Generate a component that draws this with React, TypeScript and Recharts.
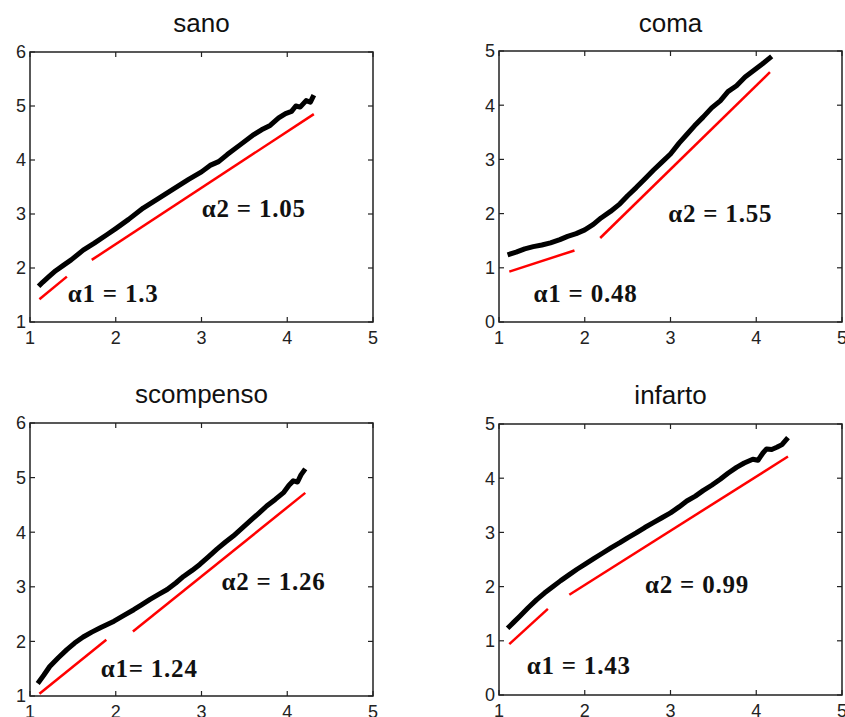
import { LineChart, Line, XAxis, YAxis, ReferenceArea, ReferenceDot } from 'recharts';

const X_TICKS = [1, 2, 3, 4, 5];
const Y_TICKS_16 = [1, 2, 3, 4, 5, 6];
const Y_TICKS_05 = [0, 1, 2, 3, 4, 5];

// sano
const sanoBlack = [
    { x: 1.10, y: 1.66 }, { x: 1.15, y: 1.74 }, { x: 1.22, y: 1.84 }, { x: 1.30, y: 1.95 },
    { x: 1.38, y: 2.04 }, { x: 1.48, y: 2.15 }, { x: 1.62, y: 2.33 }, { x: 1.75, y: 2.46 },
    { x: 1.90, y: 2.62 }, { x: 2.00, y: 2.73 }, { x: 2.15, y: 2.90 }, { x: 2.32, y: 3.11 },
    { x: 2.50, y: 3.29 }, { x: 2.67, y: 3.46 }, { x: 2.85, y: 3.64 }, { x: 3.00, y: 3.78 },
    { x: 3.10, y: 3.90 }, { x: 3.20, y: 3.97 }, { x: 3.30, y: 4.10 }, { x: 3.45, y: 4.28 },
    { x: 3.61, y: 4.47 }, { x: 3.70, y: 4.56 }, { x: 3.80, y: 4.64 }, { x: 3.90, y: 4.78 },
    { x: 3.98, y: 4.86 }, { x: 4.05, y: 4.90 }, { x: 4.10, y: 5.00 }, { x: 4.15, y: 4.98 },
    { x: 4.22, y: 5.10 }, { x: 4.27, y: 5.07 }, { x: 4.31, y: 5.20 },
];
const sanoRed1 = [{ x: 1.11, y: 1.42 }, { x: 1.43, y: 1.84 }];
const sanoRed2 = [{ x: 1.72, y: 2.15 }, { x: 4.31, y: 4.85 }];

// coma
const comaBlack = [
    { x: 1.10, y: 1.24 }, { x: 1.20, y: 1.29 }, { x: 1.30, y: 1.35 }, { x: 1.40, y: 1.39 },
    { x: 1.50, y: 1.42 }, { x: 1.60, y: 1.46 }, { x: 1.71, y: 1.52 }, { x: 1.80, y: 1.58 },
    { x: 1.90, y: 1.63 }, { x: 2.00, y: 1.70 }, { x: 2.10, y: 1.80 }, { x: 2.19, y: 1.92 },
    { x: 2.30, y: 2.04 }, { x: 2.41, y: 2.18 }, { x: 2.50, y: 2.33 }, { x: 2.60, y: 2.48 },
    { x: 2.70, y: 2.64 }, { x: 2.80, y: 2.80 }, { x: 2.90, y: 2.95 }, { x: 3.00, y: 3.10 },
    { x: 3.10, y: 3.30 }, { x: 3.19, y: 3.46 }, { x: 3.28, y: 3.62 }, { x: 3.38, y: 3.78 },
    { x: 3.48, y: 3.95 }, { x: 3.58, y: 4.08 }, { x: 3.67, y: 4.25 }, { x: 3.77, y: 4.36 },
    { x: 3.87, y: 4.52 }, { x: 3.97, y: 4.64 }, { x: 4.07, y: 4.76 }, { x: 4.18, y: 4.90 },
];
const comaRed1 = [{ x: 1.12, y: 0.93 }, { x: 1.88, y: 1.32 }];
const comaRed2 = [{ x: 2.18, y: 1.55 }, { x: 4.16, y: 4.61 }];

// scompenso
const scompensoBlack = [
    { x: 1.09, y: 1.23 }, { x: 1.16, y: 1.38 }, { x: 1.23, y: 1.54 }, { x: 1.33, y: 1.70 },
    { x: 1.43, y: 1.85 }, { x: 1.52, y: 1.97 }, { x: 1.62, y: 2.08 }, { x: 1.72, y: 2.17 },
    { x: 1.82, y: 2.25 }, { x: 1.98, y: 2.37 }, { x: 2.10, y: 2.48 }, { x: 2.21, y: 2.58 },
    { x: 2.30, y: 2.67 }, { x: 2.40, y: 2.77 }, { x: 2.50, y: 2.86 }, { x: 2.60, y: 2.95 },
    { x: 2.70, y: 3.07 }, { x: 2.79, y: 3.19 }, { x: 2.89, y: 3.30 }, { x: 2.98, y: 3.41 },
    { x: 3.08, y: 3.55 }, { x: 3.18, y: 3.69 }, { x: 3.28, y: 3.82 }, { x: 3.37, y: 3.93 },
    { x: 3.47, y: 4.07 }, { x: 3.57, y: 4.21 }, { x: 3.67, y: 4.35 }, { x: 3.76, y: 4.48 },
    { x: 3.86, y: 4.60 }, { x: 3.96, y: 4.73 }, { x: 4.02, y: 4.86 }, { x: 4.07, y: 4.94 },
    { x: 4.12, y: 4.92 }, { x: 4.16, y: 5.05 }, { x: 4.21, y: 5.16 },
];
const scompensoRed1 = [{ x: 1.11, y: 1.04 }, { x: 1.89, y: 2.03 }];
const scompensoRed2 = [{ x: 2.20, y: 2.18 }, { x: 4.21, y: 4.72 }];

// infarto
const infartoBlack = [
    { x: 1.10, y: 1.23 }, { x: 1.17, y: 1.34 }, { x: 1.24, y: 1.45 }, { x: 1.34, y: 1.61 },
    { x: 1.44, y: 1.76 }, { x: 1.53, y: 1.88 }, { x: 1.63, y: 2.00 }, { x: 1.72, y: 2.11 },
    { x: 1.82, y: 2.22 }, { x: 1.91, y: 2.32 }, { x: 2.00, y: 2.41 }, { x: 2.10, y: 2.51 },
    { x: 2.21, y: 2.62 }, { x: 2.31, y: 2.72 }, { x: 2.41, y: 2.81 }, { x: 2.50, y: 2.90 },
    { x: 2.60, y: 2.99 }, { x: 2.70, y: 3.09 }, { x: 2.80, y: 3.18 }, { x: 2.90, y: 3.27 },
    { x: 3.00, y: 3.36 }, { x: 3.10, y: 3.47 }, { x: 3.19, y: 3.58 }, { x: 3.29, y: 3.67 },
    { x: 3.38, y: 3.77 }, { x: 3.48, y: 3.87 }, { x: 3.58, y: 3.98 }, { x: 3.67, y: 4.09 },
    { x: 3.77, y: 4.20 }, { x: 3.86, y: 4.28 }, { x: 3.96, y: 4.35 }, { x: 4.02, y: 4.33 },
    { x: 4.08, y: 4.47 }, { x: 4.12, y: 4.54 }, { x: 4.18, y: 4.53 }, { x: 4.24, y: 4.57 },
    { x: 4.30, y: 4.62 }, { x: 4.37, y: 4.75 },
];
const infartoRed1 = [{ x: 1.12, y: 0.94 }, { x: 1.57, y: 1.59 }];
const infartoRed2 = [{ x: 1.82, y: 1.85 }, { x: 4.37, y: 4.40 }];

const PLOT_W = 343;
const AXIS_COLOR = '#222';
const SANS = '"Liberation Sans", Arial, sans-serif';
const SERIF = '"Liberation Serif", "Times New Roman", serif';

type Pt = { x: number; y: number };
type Note = { x: number; y: number; text: string };

type PanelProps = {
    left: number;
    top: number;
    title: string;
    plotTop: number;
    plotH: number;
    yDomain: [number, number];
    yTicks: number[];
    black: Pt[];
    red1: Pt[];
    red2: Pt[];
    notes: Note[];
};

function Panel({ left, top, title, plotTop, plotH, yDomain, yTicks, black, red1, red2, notes }: PanelProps) {
    const W = 420;
    const H = 360;

    const xTick = (p: any) => {
        const { x, y, payload } = p;
        return (
            <g>
                <line x1={x} x2={x} y1={y} y2={y - 5} stroke={AXIS_COLOR} strokeWidth={1.2} />
                <line x1={x} x2={x} y1={y - plotH} y2={y - plotH + 5} stroke={AXIS_COLOR} strokeWidth={1.2} />
                <text x={x} y={y + 16} dy="0.36em" textAnchor="middle" fontSize={18} fontFamily={SANS} fill={AXIS_COLOR}>
                    {payload.value}
                </text>
            </g>
        );
    };

    const yTick = (p: any) => {
        const { x, y, payload } = p;
        return (
            <g>
                <line x1={x} x2={x + 5} y1={y} y2={y} stroke={AXIS_COLOR} strokeWidth={1.2} />
                <line x1={x + PLOT_W} x2={x + PLOT_W - 5} y1={y} y2={y} stroke={AXIS_COLOR} strokeWidth={1.2} />
                <text x={x - 4} y={y} dy="0.36em" textAnchor="end" fontSize={18} fontFamily={SANS} fill={AXIS_COLOR}>
                    {payload.value}
                </text>
            </g>
        );
    };

    return (
        <div style={{ position: 'absolute', left, top, width: W, height: H }}>
            <div
                style={{
                    position: 'absolute', left: 30, top: 11, width: PLOT_W, textAlign: 'center',
                    fontFamily: SANS, fontSize: 26, lineHeight: '25px', color: '#111',
                }}
            >
                {title}
            </div>
            <LineChart
                width={W}
                height={H}
                margin={{ top: plotTop, right: W - 30 - PLOT_W, left: 0, bottom: H - plotTop - plotH - 30 }}
            >
                <XAxis
                    type="number" dataKey="x" domain={[1, 5]} ticks={X_TICKS} allowDataOverflow
                    height={30} axisLine={false} tickLine={false} tickSize={0} tickMargin={0} tick={xTick}
                    interval={0}
                />
                <YAxis
                    type="number" dataKey="y" domain={yDomain} ticks={yTicks} allowDataOverflow
                    width={30} axisLine={false} tickLine={false} tickSize={0} tickMargin={0} tick={yTick}
                    interval={0}
                />
                <ReferenceArea
                    x1={1} x2={5} y1={yDomain[0]} y2={yDomain[1]}
                    fill="none" fillOpacity={0} stroke={AXIS_COLOR} strokeWidth={1.5} strokeOpacity={1}
                />
                <Line data={black} dataKey="y" stroke="#000" strokeWidth={5} strokeLinejoin="round"
                    dot={false} isAnimationActive={false} />
                <Line data={red1} dataKey="y" stroke="#ff0000" strokeWidth={2.5} dot={false} isAnimationActive={false} />
                <Line data={red2} dataKey="y" stroke="#ff0000" strokeWidth={2.5} dot={false} isAnimationActive={false} />
                {notes.map((n) => (
                    <ReferenceDot
                        key={n.text} x={n.x} y={n.y} r={0} fill="none" stroke="none"
                        label={{
                            value: n.text, position: 'center', fontSize: 25, fontWeight: 700,
                            fontFamily: SERIF, fill: '#111', letterSpacing: 0.8,
                        }}
                    />
                ))}
            </LineChart>
        </div>
    );
}

export default function App() {
    return (
        <div style={{ position: 'absolute', left: 0, top: 0, width: 845, height: 717, overflow: 'hidden', background: '#fff' }}>
            <Panel
                left={0} top={0} title="sano" plotTop={52} plotH={270}
                yDomain={[1, 6]} yTicks={Y_TICKS_16}
                black={sanoBlack} red1={sanoRed1} red2={sanoRed2}
                notes={[{ x: 1.97, y: 1.54, text: 'α1 = 1.3' }, { x: 3.61, y: 3.10, text: 'α2 = 1.05' }]}
            />
            <Panel
                left={469} top={0} title="coma" plotTop={51} plotH={271}
                yDomain={[0, 5]} yTicks={Y_TICKS_05}
                black={comaBlack} red1={comaRed1} red2={comaRed2}
                notes={[{ x: 2.01, y: 0.53, text: 'α1 = 0.48' }, { x: 3.58, y: 2.01, text: 'α2 = 1.55' }]}
            />
            <Panel
                left={0} top={371} title="scompenso" plotTop={52} plotH={273}
                yDomain={[1, 6]} yTicks={Y_TICKS_16}
                black={scompensoBlack} red1={scompensoRed1} red2={scompensoRed2}
                notes={[{ x: 2.39, y: 1.51, text: 'α1= 1.24' }, { x: 3.84, y: 3.10, text: 'α2 = 1.26' }]}
            />
            <Panel
                left={469} top={372} title="infarto" plotTop={52} plotH={271}
                yDomain={[0, 5]} yTicks={Y_TICKS_05}
                black={infartoBlack} red1={infartoRed1} red2={infartoRed2}
                notes={[{ x: 1.93, y: 0.56, text: 'α1 = 1.43' }, { x: 3.31, y: 2.04, text: 'α2 = 0.99' }]}
            />
        </div>
    );
}
